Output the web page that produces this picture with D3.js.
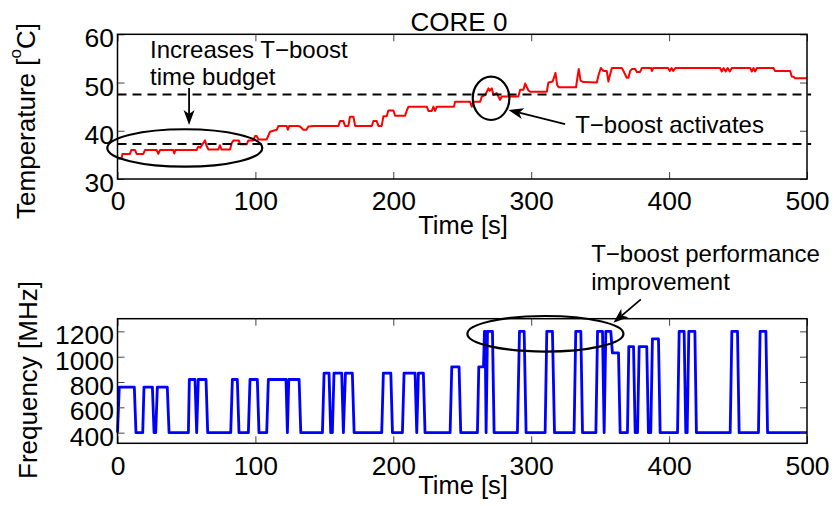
<!DOCTYPE html>
<html><head><meta charset="utf-8">
<script src="https://cdn.jsdelivr.net/npm/d3@7"></script>
<style>
body{margin:0;background:#fff;}
svg{display:block;font-family:"Liberation Sans",Arial,Helvetica,sans-serif;}
</style></head><body>
<svg id="chart" width="835" height="506"></svg>
<script>
// Axis ticks
const timeTicks = [0, 100, 200, 300, 400, 500];
const tempTicks = [30, 40, 50, 60];
const freqTicks = [400, 600, 800, 1000, 1200];
// Thermal thresholds (dashed lines), degC
const thresholds = [37.25, 47.5];

// Core 0 temperature trace: [time s, degC]
const temperature = [
[0,34.2],[3,34.3],[3.6,35.2],[9,35.2],[10,36],[12.7,36],[13.9,35.2],[18.7,35.2],[19.9,36],[28.4,36],
[29.6,35.2],[30.8,36],[40.5,36],[41.2,35.3],[42,36],[57.4,36],[58.6,36.7],[60,36.5],[61.1,37],[63.5,38],
[64.7,36.8],[66,36.1],[73.1,36.1],[74.3,37],[75.5,36.1],[81.6,36.1],[82.8,37.4],[84,38],[88,38],[88.9,37.2],
[93.7,37.2],[94.9,38],[98.5,38],[99.7,38.9],[101,38.9],[102.2,38.2],[108.2,38.2],[110.6,39.8],[113,40],[115.5,40.2],
[116.7,41],[122.7,41],[123.5,40.2],[124.5,41],[131,41],[132.4,40.9],[134.8,40.2],[137,40.2],[138.4,40.9],[142.1,41],
[160.2,41],[161.4,42],[163.8,42],[165,41],[167.4,41],[168.6,42.9],[171.1,42.9],[172.3,41],[184.4,41],[185.6,42],
[188,42],[189.2,41],[191.6,41],[192.8,43],[195.2,43],[196.4,44.2],[200.1,44.2],[201.3,43.1],[208.5,43.1],[209.8,44.2],
[211,45],[224.3,45],[225.5,44.1],[227.9,44.1],[229.1,45],[230.3,44.1],[231.5,45],[244,45],[244.8,46],[255.7,46],
[256.9,45],[258.1,46],[263,46],[264.2,47.1],[266.6,47.4],[268,48.2],[269,48.8],[270,48.3],[271.4,48.8],[272.6,47.4],
[275,47.8],[277.4,46.4],[278.6,47.1],[290.7,47.1],[292,48.5],[294.4,48.5],[295.6,49.8],[298.1,48.3],[299.2,48.1],[311.3,48.1],
[312.5,50],[315.5,50.2],[316.5,51],[317.6,52],[318.8,49.5],[320,49],[332.5,49],[333.5,51],[334.5,52.8],[335.8,50.4],
[337.9,50.1],[347.6,50],[348.8,51.5],[350.5,53],[352.5,52.4],[354.8,52.4],[356,50.2],[357.2,51.6],[358.5,53],[365.7,53],
[366.9,52.4],[369.3,51],[370.5,51],[371.8,52.4],[373,52.8],[375.4,52.8],[376.6,52.2],[379,52.2],[380.2,53],[387,53],
[387.5,52.4],[388.5,53],[399.3,53],[400.5,52.4],[401.8,53],[403,52.4],[404.5,53],[437,53],[438.2,52.3],[439.5,53],
[441,52.3],[442.5,53],[444,52.3],[445.5,53],[458.8,53],[460,52.3],[461.2,53],[462.4,52.3],[463.6,53],[475.7,53],
[476.9,52.4],[487.8,52.4],[489,51.2],[490.2,51.2],[491.4,50.9],[500,50.9]
];

// Core 0 frequency trace: [time s, MHz]
const frequency = [
[0,400],[1.3,760],[12.2,760],[13.4,400],[18.3,400],[19.2,760],[25.3,760],[26.5,400],[27.7,400],[28.9,760],
[36.1,760],[37.4,400],[51.4,400],[52.1,820],[56.2,820],[57.4,400],[58.6,820],[64.2,820],[65.4,400],[82.1,400],
[83.3,820],[86.9,820],[88.1,400],[94.9,400],[96.1,820],[101.4,820],[102.6,400],[108.2,400],[109.4,820],[122.2,820],
[123.2,400],[124.2,820],[131.7,820],[132.9,400],[148.6,400],[149.8,870],[153.4,870],[154.6,400],[155.8,400],[157,870],
[162.6,870],[163.8,400],[165.3,870],[170.3,870],[171.6,400],[191.6,400],[192.8,870],[198.2,870],[199.4,400],[206.6,400],
[207.8,870],[215.8,870],[217,400],[218.2,870],[221.8,870],[223,400],[241.2,400],[242.4,920],[247.7,920],[248.9,400],
[261,400],[262,920],[265.4,920],[266.1,1200],[266.6,1200],[267.3,400],[268.3,1200],[271.9,1200],[273.1,400],[290,400],
[291.5,1200],[294.9,1200],[296.3,400],[310.1,400],[311.3,1200],[315.4,1200],[316.9,400],[331.1,400],[332.3,1200],[336,1200],
[337.2,400],[346.9,400],[348.1,1200],[351.7,1200],[352.9,400],[354.1,1200],[357.7,1200],[358.9,1030],[363.3,1030],[364.5,400],
[369.8,400],[370.8,1080],[374.2,1080],[375.4,400],[377.1,400],[378.3,1080],[383.8,1080],[385,400],[386.7,400],[387.9,1140],
[392.3,1140],[393.5,400],[406.1,400],[407.3,1200],[410.9,1200],[412.1,400],[413.1,400],[414.3,1200],[418.7,1200],[419.8,400],
[444.3,400],[445.5,1200],[449.6,1200],[450.8,400],[464.8,400],[466,1200],[470.2,1200],[471.4,400],[500,400]
];

const svg = d3.select("#chart");
const left = 117.5, right = 807;
const top1 = 34.3, bot1 = 179, top2 = 318.7, bot2 = 443.3;
const tick = 7;

const x = d3.scaleLinear([0, 500], [left, right]);
const yT = d3.scaleLinear([30, 60], [bot1, top1]);
const yF = d3.scaleLinear([316, 1300], [bot2, top2]);

function styleAxis(g) {
  g.attr("font-size", 26.5).attr("font-family", null);
  g.select(".domain").remove();
  g.selectAll(".tick line").attr("stroke", "#444").attr("stroke-width", 1);
  g.selectAll(".tick text").attr("fill", "#000");
}

function frame(y, yTicks, yTop, yBot, labelGap) {
  svg.append("g").attr("transform", `translate(0,${yBot})`)
    .call(d3.axisBottom(x).tickValues(timeTicks).tickSize(-tick).tickPadding(0))
    .call(styleAxis)
    .call(g => g.selectAll(".tick text").attr("y", labelGap).attr("dy", 0));
  svg.append("g").attr("transform", `translate(0,${yTop})`)
    .call(d3.axisTop(x).tickValues(timeTicks).tickSize(-tick).tickFormat(""))
    .call(styleAxis);
  svg.append("g").attr("transform", `translate(${left},0)`)
    .call(d3.axisLeft(y).tickValues(yTicks).tickSize(-tick).tickFormat(d3.format("d")))
    .call(styleAxis)
    .call(g => g.selectAll(".tick text").attr("x", -3.5).attr("dy", "0.47em"));
  svg.append("g").attr("transform", `translate(${right},0)`)
    .call(d3.axisRight(y).tickValues(yTicks).tickSize(-tick).tickFormat(""))
    .call(styleAxis);
  svg.append("rect").attr("x", left).attr("y", yTop)
    .attr("width", right - left).attr("height", yBot - yTop)
    .attr("fill", "none").attr("stroke", "#000").attr("stroke-width", 1.5);
}

// ---- Temperature panel ----
const lineT = d3.line().x(d => x(d[0])).y(d => yT(d[1]));
svg.append("path").datum(temperature).attr("d", lineT)
  .attr("fill", "none").attr("stroke", "#ff0000").attr("stroke-width", 2)
  .attr("stroke-linejoin", "round");

svg.selectAll(".thr").data(thresholds).join("line").attr("class", "thr")
  .attr("x1", x(0)).attr("x2", x(503)).attr("y1", d => yT(d)).attr("y2", d => yT(d))
  .attr("stroke", "#000").attr("stroke-width", 2).attr("stroke-dasharray", "9,6");

frame(yT, tempTicks, top1, bot1, 30.5);

// ---- Frequency panel ----
const lineF = d3.line().x(d => x(d[0])).y(d => yF(d[1]));
svg.append("path").datum(frequency).attr("d", lineF)
  .attr("fill", "none").attr("stroke", "#0000ff").attr("stroke-width", 2.8)
  .attr("stroke-linejoin", "round");

frame(yF, freqTicks, top2, bot2, 32);

// ---- Titles and axis labels ----
svg.append("text").attr("x", 459).attr("y", 31).attr("text-anchor", "middle")
  .attr("font-size", 26).text("CORE 0");
svg.append("text").attr("x", 463).attr("y", 233.5).attr("text-anchor", "middle")
  .attr("font-size", 25.5).text("Time [s]");
svg.append("text").attr("x", 463).attr("y", 493.5).attr("text-anchor", "middle")
  .attr("font-size", 25.5).text("Time [s]");

const tl = svg.append("text").attr("transform", "translate(35,121) rotate(-90)")
  .attr("text-anchor", "middle").attr("font-size", 26);
tl.append("tspan").text("Temperature [");
tl.append("tspan").attr("dy", -14).attr("font-size", 17).text("o");
tl.append("tspan").attr("dy", 14).text("C]");

svg.append("text").attr("transform", "translate(36.5,380) rotate(-90)")
  .attr("text-anchor", "middle").attr("font-size", 26).text("Frequency [MHz]");

// ---- Annotations (positions in data units of each panel) ----
function ellipse(y, t, v, rt, rv) {
  svg.append("ellipse")
    .attr("cx", x(t)).attr("cy", y(v))
    .attr("rx", x(t + rt) - x(t)).attr("ry", Math.abs(y(v + rv) - y(v)))
    .attr("fill", "none").attr("stroke", "#000").attr("stroke-width", 2.2);
}
function arrow(y, t0, v0, t1, v1) {
  const ax = x(t0), ay = y(v0), bx = x(t1), by = y(v1);
  const a = Math.atan2(by - ay, bx - ax);
  const L = 15, Wd = 5.5, N = 11;
  const ux = Math.cos(a), uy = Math.sin(a), px = -uy, py = ux;
  svg.append("line").attr("x1", ax).attr("y1", ay)
    .attr("x2", bx - ux * N).attr("y2", by - uy * N)
    .attr("stroke", "#000").attr("stroke-width", 1.8);
  const pts = [
    [bx, by],
    [bx - ux * L + px * Wd, by - uy * L + py * Wd],
    [bx - ux * N, by - uy * N],
    [bx - ux * L - px * Wd, by - uy * L - py * Wd]
  ];
  svg.append("polygon").attr("points", pts.map(p => p.join(",")).join(" "))
    .attr("fill", "#000");
}
function note(y, t, v, lines, gap) {
  const tx = svg.append("text").attr("font-size", 24);
  lines.forEach((s, i) => tx.append("tspan").attr("x", x(t)).attr("y", y(v) + i * gap).text(s));
}

ellipse(yT, 48.8, 36.43, 56.2, 3.88);
note(yT, 23.6, 55.0, ["Increases T\u2212boost", "time budget"], 26.5);
arrow(yT, 51.9, 48.87, 51.9, 41.2);

ellipse(yT, 270.9, 46.73, 13.3, 4.5);
note(yT, 331.9, 39.47, ["T\u2212boost activates"], 0);
arrow(yT, 324.6, 41.4, 283.5, 44.3);

ellipse(yF, 310.3, 1180.8, 56.6, 140.6);
note(yF, 343.5, 1747.7, ["T\u2212boost performance", "improvement"], 28);
arrow(yF, 379.5, 1453, 359.6, 1268.4);
</script>
</body></html>
